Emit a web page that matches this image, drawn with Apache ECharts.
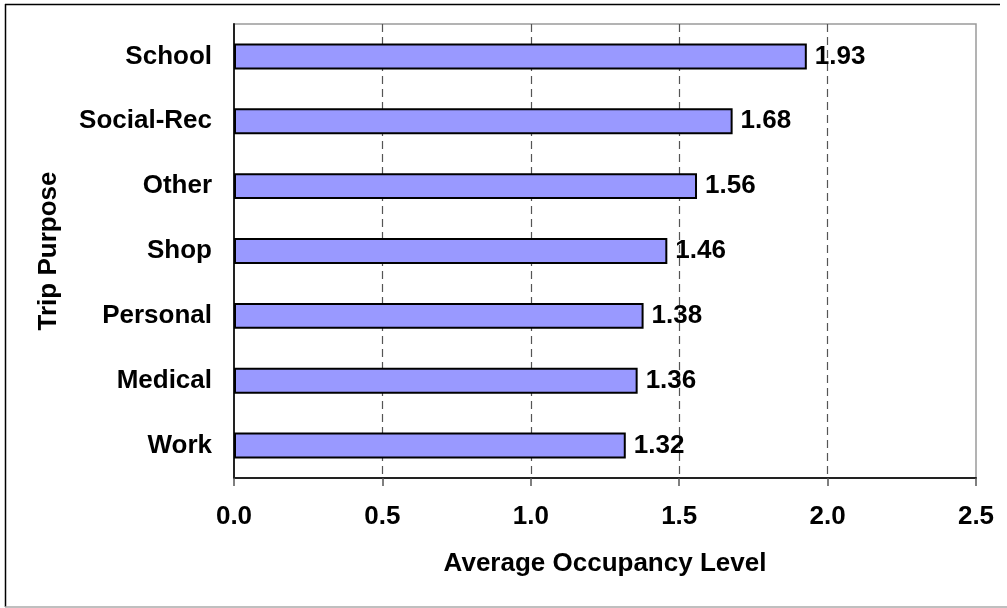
<!DOCTYPE html>
<html>
<head>
<meta charset="utf-8">
<script src="https://cdn.jsdelivr.net/npm/echarts@6/dist/echarts.min.js"></script>
<style>
  html, body { margin: 0; padding: 0; background: #ffffff; }
  #chart { width: 1007px; height: 608px; }
</style>
</head>
<body>
<div id="chart"></div>
<script>
// Trip purposes, listed bottom to top along the category axis
const categories = ['Work', 'Medical', 'Personal', 'Shop', 'Other', 'Social-Rec', 'School'];
// Average vehicle occupancy per trip purpose
const occupancy = [1.32, 1.36, 1.38, 1.46, 1.56, 1.68, 1.93];
// Value axis range and step
const axisMin = 0;
const axisMax = 2.5;
const axisStep = 0.5;

const FONT = '"Liberation Sans", Arial, sans-serif';
const FS = 26;

const chart = echarts.init(document.getElementById('chart'), null, { renderer: 'canvas' });

chart.setOption({
  backgroundColor: '#ffffff',
  animation: false,
  graphic: [
    // outer frame
    { type: 'line', shape: { x1: 5, y1: 4.5, x2: 1000, y2: 4.5 }, style: { stroke: '#000', lineWidth: 1.5 } },
    { type: 'line', shape: { x1: 5.5, y1: 4, x2: 5.5, y2: 607 }, style: { stroke: '#000', lineWidth: 1.5 } },
    { type: 'line', shape: { x1: 5, y1: 607, x2: 1007, y2: 607 }, style: { stroke: '#aaaaaa', lineWidth: 1.5 } }
  ],
  grid: {
    left: 234, top: 24, right: 31, bottom: 130,
    show: true,
    borderColor: '#9a9a9a',
    borderWidth: 1.5,
    backgroundColor: 'transparent'
  },
  xAxis: {
    type: 'value',
    min: axisMin, max: axisMax, interval: axisStep,
    name: 'Average Occupancy Level',
    nameLocation: 'middle',
    nameGap: 73,
    nameTextStyle: { fontFamily: FONT, fontWeight: 'bold', fontSize: FS, color: '#000' },
    axisLine: { show: true, lineStyle: { color: '#222', width: 2 } },
    axisTick: { show: true, length: 8, lineStyle: { color: '#555', width: 1.5 } },
    axisLabel: {
      fontFamily: FONT, fontWeight: 'bold', fontSize: FS, color: '#000', margin: 26,
      formatter: v => v.toFixed(1)
    },
    splitLine: { show: true, showMinLine: false, showMaxLine: false, lineStyle: { color: '#555', width: 1.2, type: [8, 5] } }
  },
  yAxis: {
    type: 'category',
    data: categories,
    name: 'Trip Purpose',
    nameLocation: 'middle',
    nameGap: 172,
    nameRotate: 90,
    nameTextStyle: { fontFamily: FONT, fontWeight: 'bold', fontSize: FS, color: '#000' },
    axisLine: { show: true, lineStyle: { color: '#222', width: 2 } },
    axisTick: { show: false },
    axisLabel: { fontFamily: FONT, fontWeight: 'bold', fontSize: FS, color: '#000', margin: 22 },
    splitLine: { show: false }
  },
  series: [{
    type: 'bar',
    data: occupancy,
    barWidth: '40%',
    itemStyle: { color: '#9999ff', borderColor: '#000', borderWidth: 2 },
    label: {
      show: true,
      position: 'right',
      distance: 8,
      fontFamily: FONT, fontWeight: 'bold', fontSize: FS, color: '#000',
      formatter: p => p.value.toFixed(2)
    },
    z: 3
  }]
});
</script>
</body>
</html>
